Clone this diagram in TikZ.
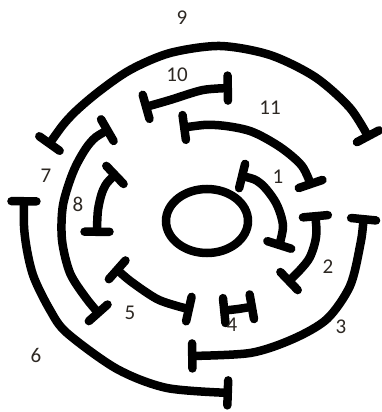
\documentclass[tikz,border=0pt]{standalone}
\usepackage{fontspec}
\setmainfont{Carlito}
\usetikzlibrary{arrows.meta}
\definecolor{labelgray}{RGB}{45,40,35}

\begin{document}
\begin{tikzpicture}[x=1pt, y=-1pt,
        ring/.style={line width=8.5pt, line cap=round, {Bar[width=25pt,round]}-{Bar[width=25pt,round]}},
        num/.style={text=labelgray, font=\fontsize{21}{24}\selectfont, inner sep=0pt}
    ]
    \useasboundingbox (0,0) rectangle (382,412);
    \draw[line width=8.5pt] (207,221) ellipse (41 and 32);
    \draw[ring] plot[smooth] coordinates {(238,175) (260,183) (276,203) (283,226) (278,249)};
    \draw[ring] plot[smooth] coordinates {(315,212) (316,237) (310,257) (300,270) (286,284)};
    \draw[ring] plot[smooth] coordinates {(364,215) (360,246) (350,286) (327,319) (293,339) (250,353) (188,356)};
    \draw[ring] plot[smooth] coordinates {(220,311) (238,309) (256,306)};
    \draw[ring] plot[smooth] coordinates {(114,267) (133,283) (157,299) (177,306) (193,310)};
    \draw[ring] plot[smooth] coordinates {(24,197) (25,237) (33,275) (50,310) (67,333) (117,369) (167,388) (232,393)};
    \draw[ring] plot[smooth] coordinates {(111,128) (90,143) (74,170) (63,205) (62,240) (70,273) (86,298) (101,316)};
    \draw[ring] plot[smooth] coordinates {(118,172) (104,188) (98,210) (97,236)};
    \draw[ring] plot[smooth] coordinates {(47,147) (70,117) (97,93) (130,70) (170,53) (220,46) (270,55) (315,77) (350,108) (370,140)};
    \draw[ring] plot[smooth] coordinates {(142,108) (170,100) (203,90) (232,88)};
    \draw[ring] plot[smooth] coordinates {(180,128) (215,125) (250,131) (280,147) (302,166) (312,188)};
    \node[num] (l1) at (278,177) {1};
    \node[num] (l2) at (328,267) {2};
    \node[num] (l3) at (341,327) {3};
    \node[num] (l4) at (232,325) {4};
    \node[num] (l5) at (130,313) {5};
    \node[num] (l6) at (36,355) {6};
    \node[num] (l7) at (46,176) {7};
    \node[num] (l8) at (78,204) {8};
    \node[num] (l9) at (182,18) {9};
    \node[num] (l10) at (177,75) {10};
    \node[num] (l11) at (270,108) {11};
\end{tikzpicture}
\end{document}
